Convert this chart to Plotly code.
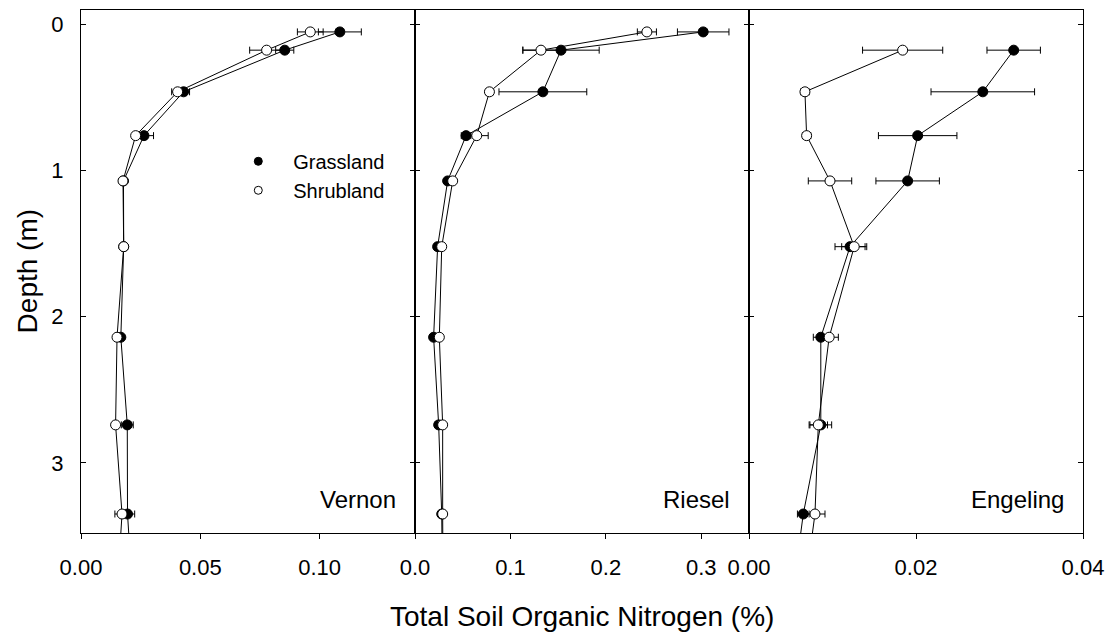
import plotly.graph_objects as go

# ---------------- data ----------------
depth = [0.05, 0.175, 0.46, 0.76, 1.07, 1.52, 2.14, 2.74, 3.35, 3.95]
depth_eng = [0.175, 0.46, 0.76, 1.07, 1.52, 2.14, 2.74, 3.35, 3.95]

vernon_grass = [0.1085, 0.0854, 0.0430, 0.0264, 0.0178, 0.0179, 0.0167, 0.0194, 0.0195, 0.0218]
vernon_grass_se = [0.0090, 0.0038, 0.0025, 0.0040, 0.0006, 0.0010, 0.0006, 0.0025, 0.0030, 0.0]
vernon_shrub = [0.0961, 0.0778, 0.0405, 0.0229, 0.0176, 0.0179, 0.0151, 0.0145, 0.0172, 0.0149]
vernon_shrub_se = [0.0054, 0.0071, 0.0025, 0.0010, 0.0006, 0.0010, 0.0008, 0.0010, 0.0030, 0.0]

riesel_grass = [0.302, 0.153, 0.134, 0.0535, 0.0342, 0.0237, 0.0195, 0.0248, 0.0280, 0.0290]
riesel_grass_se = [0.027, 0.040, 0.046, 0.005, 0.002, 0.001, 0.001, 0.001, 0.001, 0.0]
riesel_shrub = [0.243, 0.132, 0.078, 0.0647, 0.0395, 0.0280, 0.0255, 0.0290, 0.0290, 0.0295]
riesel_shrub_se = [0.010, 0.019, 0.004, 0.012, 0.002, 0.001, 0.001, 0.001, 0.001, 0.0]

engeling_grass = [0.0317, 0.0280, 0.0202, 0.0190, 0.0121, 0.0086, 0.0086, 0.0065, 0.0051]
engeling_grass_se = [0.0032, 0.0062, 0.0047, 0.0038, 0.0018, 0.0009, 0.0013, 0.0007, 0.0]
engeling_shrub = [0.0184, 0.0067, 0.0069, 0.0097, 0.0126, 0.0096, 0.0083, 0.0079, 0.0065]
engeling_shrub_se = [0.0048, 0.0005, 0.0005, 0.0026, 0.0015, 0.0011, 0.0011, 0.0012, 0.0]

sites = ["Vernon", "Riesel", "Engeling"]
series_names = ["Grassland", "Shrubland"]
x_titles_tick = [(0.05, ".2f"), (0.1, ".1f"), (0.02, ".2f")]
x_ranges = [[0, 0.14], [0, 0.35], [0, 0.04]]
y_range = [3.48, -0.1]

FONT = "Liberation Sans, Arial, sans-serif"
FILLS = ["black", "white"]

panels = [
    (depth, vernon_grass, vernon_grass_se, vernon_shrub, vernon_shrub_se),
    (depth, riesel_grass, riesel_grass_se, riesel_shrub, riesel_shrub_se),
    (depth_eng, engeling_grass, engeling_grass_se, engeling_shrub, engeling_shrub_se),
]

fig = go.Figure()

for i, (d, g, gse, s, sse) in enumerate(panels):
    xa = "x" if i == 0 else f"x{i+1}"
    ya = "y" if i == 0 else f"y{i+1}"
    for vals in (g, s):
        fig.add_trace(go.Scatter(x=vals, y=d, mode="lines", xaxis=xa, yaxis=ya,
                                 line=dict(color="black", width=1), showlegend=False,
                                 hoverinfo="skip"))
    for name, vals, se, fill in zip(series_names, (g, s), (gse, sse), FILLS):
        fig.add_trace(go.Scatter(
            x=vals, y=d, mode="markers", xaxis=xa, yaxis=ya, name=name,
            showlegend=False,
            marker=dict(symbol="circle", size=10, color=fill, line=dict(color="black", width=1)),
            error_x=dict(type="data", array=se, visible=True, color="black", thickness=1, width=3.5),
        ))

# legend keys (smaller symbols, as in the original legend)
for name, fill in zip(series_names, FILLS):
    fig.add_trace(go.Scatter(x=[None], y=[None], mode="markers", name=name,
                             marker=dict(symbol="circle", size=8, color=fill,
                                         line=dict(color="black", width=1))))

layout = dict(
    width=1115, height=635,
    margin=dict(l=81, r=32, t=10, b=102),
    paper_bgcolor="white", plot_bgcolor="white",
    font=dict(family=FONT, size=22, color="black"),
    showlegend=True,
    legend=dict(x=0.142, y=0.748, xanchor="left", yanchor="top",
                font=dict(size=20, family=FONT), bgcolor="rgba(0,0,0,0)",
                tracegroupgap=0, itemwidth=60),
)

domains = [[0, 1/3], [1/3, 2/3], [2/3, 1]]
for i in range(3):
    xkey = "xaxis" if i == 0 else f"xaxis{i+1}"
    ykey = "yaxis" if i == 0 else f"yaxis{i+1}"
    ya = "y" if i == 0 else f"y{i+1}"
    xa = "x" if i == 0 else f"x{i+1}"
    dt, fmt = x_titles_tick[i]
    layout[xkey] = dict(domain=domains[i], range=x_ranges[i], anchor=ya,
                        dtick=dt, tick0=0, tickformat=fmt,
                        ticks="outside", ticklen=5, tickcolor="black",
                        showline=True, linecolor="black", linewidth=1, mirror=True,
                        showgrid=False, zeroline=False, ticklabelstandoff=10,
                        tickfont=dict(size=22, family=FONT))
    layout[ykey] = dict(domain=[0, 1], range=y_range, anchor=xa,
                        dtick=1, tick0=0, ticks="inside", ticklen=5, tickcolor="black",
                        showline=True, linecolor="black", linewidth=1, mirror="ticks",
                        showgrid=False, zeroline=False, showticklabels=(i == 0),
                        ticklabelstandoff=12, tickfont=dict(size=22, family=FONT))
    if i > 0:
        layout[ykey]["matches"] = "y"

fig.update_layout(**layout)

# panel labels
for i, name in enumerate(sites):
    xr = "x domain" if i == 0 else f"x{i+1} domain"
    yr = "y domain" if i == 0 else f"y{i+1} domain"
    fig.add_annotation(text=name, xref=xr, yref=yr, x=0.95, y=0.064,
                       xanchor="right", yanchor="middle", showarrow=False,
                       font=dict(size=24, family=FONT))

# axis titles
fig.add_annotation(text="Total Soil Organic Nitrogen (%)", xref="paper", yref="paper",
                   x=0.5, y=-0.16, xanchor="center", yanchor="middle", showarrow=False,
                   font=dict(size=28, family=FONT))
fig.add_annotation(text="Depth (m)", xref="paper", yref="paper", textangle=-90,
                   x=-0.053, y=0.5, xanchor="center", yanchor="middle", showarrow=False,
                   font=dict(size=28, family=FONT))

fig.write_html("out.html")
